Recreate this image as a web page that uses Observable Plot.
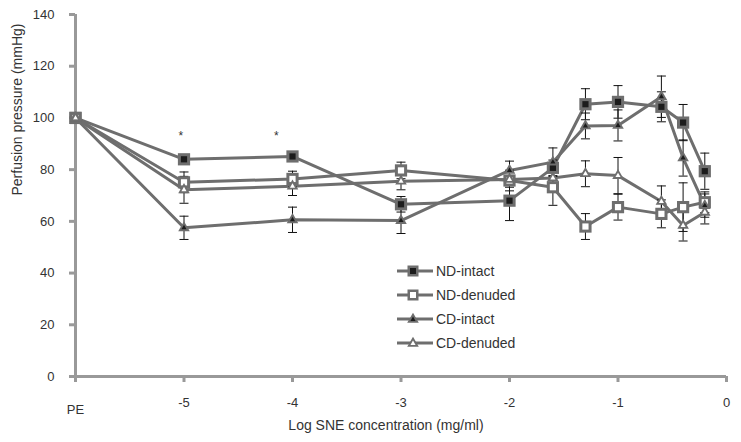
<!DOCTYPE html>
<html>
<head>
<meta charset="utf-8">
<script src="https://cdn.jsdelivr.net/npm/d3@7"></script>
<script src="https://cdn.jsdelivr.net/npm/@observablehq/plot@0.6"></script>
<style>
  html, body { margin: 0; padding: 0; background: #fff; }
  #wrap { position: relative; width: 741px; height: 442px; overflow: hidden; }
  #wrap svg.plot { outline: 1px solid #111; outline-offset: -1px; }
  #legend { position: absolute; left: 396px; top: 259px; font-family: "Liberation Sans", Arial, sans-serif; font-size: 14px; color: #333; }
  #legend .row { height: 24px; display: flex; align-items: center; }
  #legend .row svg { display: block; }
</style>
</head>
<body>
<div id="wrap"></div>
<script>
// ---- data ----
const xValues = [-6, -5, -4, -3, -2, -1.6, -1.3, -1, -0.6, -0.4, -0.2];
const xTickValues = [-5, -4, -3, -2, -1, 0];
const peTick = [-6];
const peLabel = "PE";
const yTickValues = [0, 20, 40, 60, 80, 100, 120, 140];

const seriesNames = ["ND-intact", "ND-denuded", "CD-intact", "CD-denuded"];
const ndIntact   = [100, 84.0, 85.1, 66.6, 68.0, 80.7, 105.3, 106.2, 104.3, 98.2, 79.4];
const ndDenuded  = [100, 75.1, 76.4, 79.7, 75.8, 73.2, 58.0, 65.5, 62.9, 65.5, 67.4];
const cdIntact   = [100, 57.5, 60.6, 60.3, 79.7, 82.9, 96.9, 97.1, 108.2, 84.5, 66.1];
const cdDenuded  = [100, 72.2, 73.6, 75.5, 76.2, 76.8, 78.4, 77.7, 67.7, 58.4, 63.5];

const ndIntactErr  = [0, 1.3, 1.6, 3.0, 7.7, 3.0, 6.0, 6.3, 5.8, 7.0, 7.0];
const ndDenudedErr = [0, 4.0, 3.0, 3.2, 4.0, 7.0, 5.0, 5.0, 5.4, 9.4, 4.0];
const cdIntactErr  = [0, 4.5, 4.9, 5.0, 3.6, 5.5, 5.0, 6.0, 8.0, 7.0, 4.5];
const cdDenudedErr = [0, 5.2, 3.6, 3.3, 3.0, 4.0, 5.0, 7.0, 6.0, 6.0, 4.5];

const asteriskX = [-5.03, -4.15];
const asteriskY = [92.8, 92.8];

const xTitle = "Log SNE concentration (mg/ml)";
const yTitle = "Perfusion pressure (mmHg)";

// ---- build tables ----
const seriesValues = [ndIntact, ndDenuded, cdIntact, cdDenuded];
const seriesErrors = [ndIntactErr, ndDenudedErr, cdIntactErr, cdDenudedErr];
const shapeOf = {"ND-intact": "square", "ND-denuded": "square", "CD-intact": "triangle", "CD-denuded": "triangle"};
const innerFill = {"ND-intact": "#1c1c1c", "ND-denuded": "#ffffff", "CD-intact": "#1c1c1c", "CD-denuded": "#ffffff"};

const rows = [];
seriesNames.forEach((name, si) => {
  xValues.forEach((x, i) => {
    const v = seriesValues[si][i], e = seriesErrors[si][i];
    rows.push({series: name, x, y: v, lo: v - e, hi: v + e, err: e});
  });
});
const errRows = rows.filter(d => d.err > 0);
const squares = rows.filter(d => shapeOf[d.series] === "square");
const triangles = rows.filter(d => shapeOf[d.series] === "triangle");
const asterisks = asteriskX.map((x, i) => ({x, y: asteriskY[i]}));

const lineColor = "#6e6e6e";
const axisColor = "#999999";
const textColor = "#333333";

const capSymbol = { draw(ctx, size) { ctx.moveTo(-4.5, 0); ctx.lineTo(4.5, 0); } };

const chart = Plot.plot({
  width: 741,
  height: 442,
  marginLeft: 75,
  marginRight: 15,
  marginTop: 14,
  marginBottom: 66,
  x: {domain: [-6, 0]},
  y: {domain: [0, 140]},
  style: {fontFamily: "'Liberation Sans', Arial, sans-serif", fontSize: "13px", color: textColor, background: "#fff"},
  marks: [
    Plot.ruleY([0], {stroke: axisColor, strokeWidth: 3}),
    Plot.ruleX([-6], {stroke: axisColor, strokeWidth: 3}),
    Plot.axisX({ticks: xTickValues, tickSize: 6, tickPadding: 15, stroke: axisColor, strokeWidth: 3, fill: textColor, label: null, tickFormat: d => String(d)}),
    Plot.axisX({ticks: peTick, tickSize: 6, tickPadding: 22, stroke: axisColor, strokeWidth: 3, fill: textColor, label: null, tickFormat: () => peLabel}),
    Plot.axisY({ticks: yTickValues, tickSize: 6, tickPadding: 15, stroke: axisColor, strokeWidth: 3, fill: textColor, label: null}),
    Plot.text([xTitle], {frameAnchor: "bottom", dx: -15, dy: 53, fontSize: 14, fill: textColor}),
    Plot.text([yTitle], {frameAnchor: "left", dx: -58, rotate: -90, fontSize: 14, fill: textColor}),
    Plot.line(rows, {x: "x", y: "y", z: "series", stroke: lineColor, strokeWidth: 3, strokeLinejoin: "round"}),
    Plot.ruleX(errRows, {x: "x", y1: "lo", y2: "hi", stroke: "#111", strokeWidth: 1}),
    Plot.dot(errRows, {x: "x", y: "lo", symbol: capSymbol, stroke: "#111", strokeWidth: 1, fill: "none", r: 3}),
    Plot.dot(errRows, {x: "x", y: "hi", symbol: capSymbol, stroke: "#111", strokeWidth: 1, fill: "none", r: 3}),
    Plot.dot(squares, {x: "x", y: "y", symbol: "square", r: 6.9, fill: lineColor, stroke: "none"}),
    Plot.dot(squares, {x: "x", y: "y", symbol: "square", r: 3.5, fill: d => innerFill[d.series], stroke: "none"}),
    Plot.dot(triangles, {x: "x", y: "y", symbol: "triangle", r: 4.3, fill: lineColor, stroke: "none"}),
    Plot.dot(triangles, {x: "x", y: "y", symbol: "triangle", r: 1.9, fill: d => innerFill[d.series], stroke: "none"}),
    Plot.text(asterisks, {x: "x", y: "y", text: () => "*", fontSize: 12, fill: textColor})
  ]
});
document.getElementById("wrap").appendChild(chart);

// ---- legend ----
const legend = document.createElement("div");
legend.id = "legend";
const ns = "http://www.w3.org/2000/svg";
seriesNames.forEach(name => {
  const row = document.createElement("div");
  row.className = "row";
  const svg = d3.create("svg").attr("width", 40).attr("height", 16);
  svg.append("line").attr("x1", 1).attr("x2", 37).attr("y1", 8).attr("y2", 8).attr("stroke", lineColor).attr("stroke-width", 3);
  if (shapeOf[name] === "square") {
    svg.append("rect").attr("x", 17 - 5.5).attr("y", 8 - 5.5).attr("width", 11).attr("height", 11).attr("fill", lineColor);
    svg.append("rect").attr("x", 17 - 3).attr("y", 8 - 3).attr("width", 6).attr("height", 6).attr("fill", innerFill[name]);
  } else {
    svg.append("path").attr("transform", "translate(17,8.5)").attr("d", d3.symbol(d3.symbolTriangle, Math.PI * 4.3 * 4.3)()).attr("fill", lineColor);
    svg.append("path").attr("transform", "translate(17,8.5)").attr("d", d3.symbol(d3.symbolTriangle, Math.PI * 1.9 * 1.9)()).attr("fill", innerFill[name]);
  }
  row.appendChild(svg.node());
  const label = document.createElement("span");
  label.textContent = name;
  row.appendChild(label);
  legend.appendChild(row);
});
document.getElementById("wrap").appendChild(legend);
</script>
</body>
</html>
